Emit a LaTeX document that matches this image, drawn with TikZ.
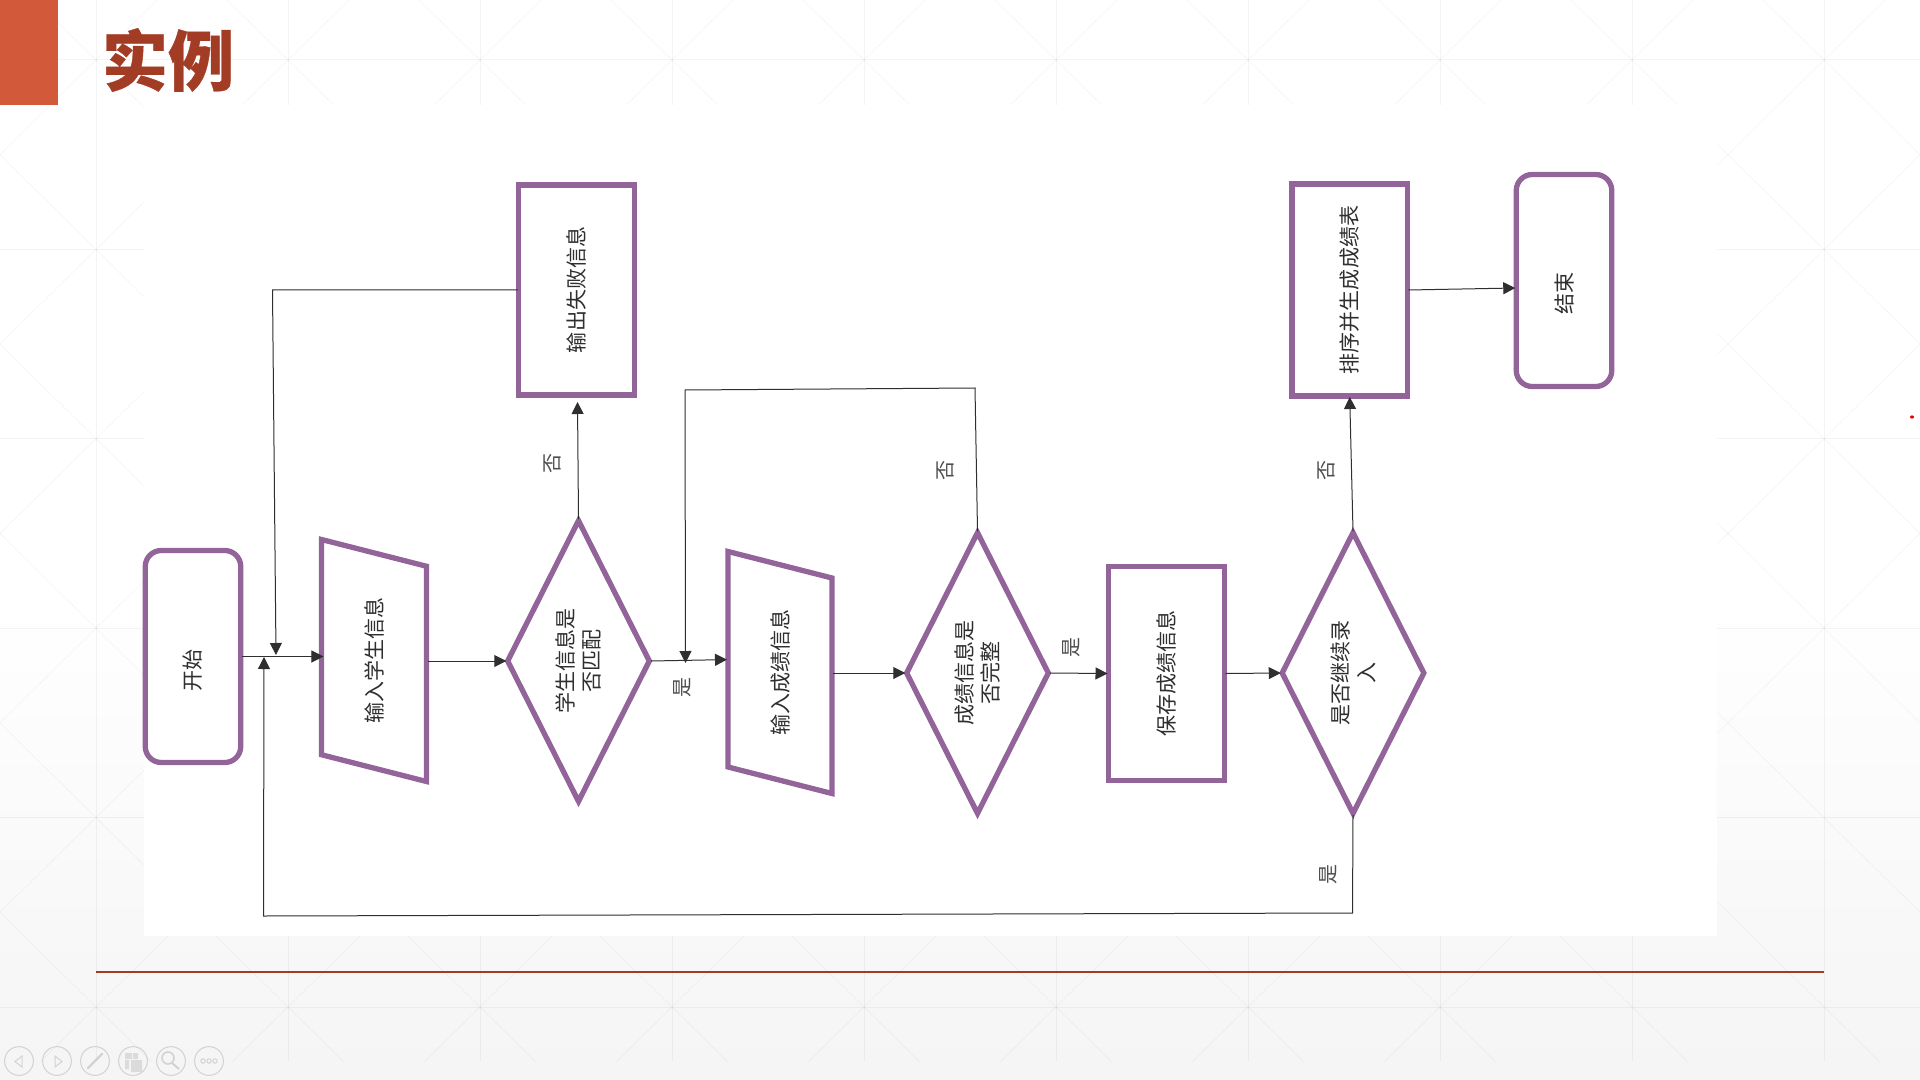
\documentclass[tikz,border=0pt]{standalone}
\usepackage{fontspec}
\setmainfont{Noto Sans CJK SC}
\newfontfamily\titlefont[BoldFeatures={FakeBold=0.5}]{Noto Sans CJK SC}
\usepackage{xcolor}
\usetikzlibrary{shapes.geometric,arrows.meta,calc}
\definecolor{flowpurple}{HTML}{93649A}
\definecolor{rust}{HTML}{A33C24}
\definecolor{tabred}{HTML}{D2593A}
\definecolor{inkgray}{HTML}{2F2F2F}
\definecolor{icongray}{HTML}{D2D2D2}
\tikzset{
    wall/.style={draw=black, opacity=0.045, line width=0.5pt},
    wallthin/.style={draw=black, opacity=0.035, line width=0.4pt},
    box/.style={draw=flowpurple, line width=2.65pt, inner sep=0pt, outer sep=0.5pt, rotate=90, text=inkgray,
        font=\fontsize{10.5}{13}\selectfont, align=center},
    procbox/.style={box, rectangle},
    terminal/.style={box, rectangle, rounded corners=8pt},
    iobox/.style={box, trapezium, trapezium left angle=75.7, trapezium right angle=104.3,
        trapezium stretches body=true, text height=10.5pt, text depth=2.5pt},
    decision/.style={box, diamond, aspect=2},
    flowline/.style={draw=inkgray, line width=0.5pt},
    flowarrow/.style={flowline, -{Triangle[length=6pt,width=6pt]}},
    branchlabel/.style={rotate=90, inner sep=0pt, text=inkgray!85, font=\fontsize{10}{12}\selectfont},
    toolicon/.style={draw=icongray, line width=0.5pt}
}
\begin{document}
\begin{tikzpicture}[x=0.5pt, y=-0.5pt]
    \useasboundingbox (0,0) rectangle (1920,1080);
    \fill[white] (0,0) rectangle (1920,600);
    \shade[top color=white, bottom color=black!4] (0,600) rectangle (1920,1080);

    \begin{scope}
        \clip (0,0) rectangle (1920,1061);
        \foreach \col in {0,...,9} {
            \draw[wall] ({96+192*\col},0) -- ({96+192*\col},1061);
        }
        \foreach \row in {0,...,5} {
            \draw[wall] (0,{60+189.4*\row}) -- (1920,{60+189.4*\row});
        }
        \foreach \col in {-8,...,12} {
            \draw[wallthin] ({96+192*\col-192},{60-189.4}) -- ++(1920,1894);
            \draw[wallthin] ({96+192*\col+192},{60-189.4}) -- ++(-1920,1894);
        }
    \end{scope}

    \fill[white] (144,105) rectangle (1717,936);
    \fill[tabred] (0,0) rectangle (58,105);
    \node (title) at (168,60) {\titlefont\fontsize{33}{38}\selectfont\bfseries\textcolor{rust}{实例}};
    \draw[rust, line width=1.1pt] (96,972) -- (1824,972);
    \fill[red!90!black] (1912,417) ellipse (2 and 1.6);

    \node[terminal, minimum width=212pt/2, minimum height=95.5pt/2] (startnode) at (193,656.5) {开始\hspace*{13.5pt}};
    \node[iobox, minimum width=242pt/2, inner ysep=19.75pt] (inputstudent) at (374,660.5) {输入学生信息};
    \node[decision, minimum width=281.5pt/2, minimum height=142.5pt/2] (matchcheck) at (578.5,661) {学生信息是\\否匹配};
    \node[procbox, minimum width=210pt/2, minimum height=115.5pt/2] (failout) at (576.5,290) {输出失败信息};
    \node[iobox, minimum width=242pt/2, inner ysep=19.5pt] (inputgrade) at (780,672.5) {输入成绩信息};
    \node[decision, minimum width=281.5pt/2, minimum height=142.5pt/2] (gradecheck) at (977.5,673) {成绩信息是\\否完整};
    \node[procbox, minimum width=214pt/2, minimum height=116pt/2] (savegrade) at (1166.5,673.5) {保存成绩信息};
    \node[decision, minimum width=281.5pt/2, minimum height=142.5pt/2] (morecheck) at (1353,673) {是否继续录\\入};
    \node[procbox, minimum width=212pt/2, minimum height=115.5pt/2] (sortgrade) at (1349.7,290) {排序并生成成绩表};
    \node[terminal, minimum width=212pt/2, minimum height=95.5pt/2] (endnode) at (1564,280.5) {结束\hspace*{13.5pt}};

    \coordinate (failcorner) at (272.5,290);
    \coordinate (failjoin) at (276,655);
    \coordinate (gradetop) at (975,388);
    \coordinate (gradeleft) at (685,390);
    \coordinate (gradejoin) at (685.5,663);
    \coordinate (loopright) at (1352.5,913);
    \coordinate (loopleft) at (263.5,916);
    \coordinate (loopjoin) at (264,657);

    \draw[flowarrow] (startnode.south) -- ([xshift=1.5pt]startnode.south -| inputstudent.north);
    \draw[flowarrow] (inputstudent.south |- matchcheck.north) -- (matchcheck.north);
    \draw[flowarrow] (matchcheck.south) -- ([yshift=0.7pt]matchcheck.south -| inputgrade.north);
    \draw[flowarrow] (matchcheck.east) -- ([xshift=0.5pt,yshift=-3pt]failout.west);
    \draw[flowarrow] (failout.north) -- (failcorner) -- (failjoin);
    \draw[flowarrow] (inputgrade.south |- gradecheck.north) -- (gradecheck.north);
    \draw[flowarrow] (gradecheck.south) -- (savegrade.north);
    \draw[flowarrow] (gradecheck.east) -- (gradetop) -- (gradeleft) -- (gradejoin);
    \draw[flowarrow] (savegrade.south) -- (morecheck.north);
    \draw[flowarrow] (morecheck.east) -- (sortgrade.west);
    \draw[flowarrow] (morecheck.west) -- (loopright) -- (loopleft) -- (loopjoin);
    \draw[flowarrow] (sortgrade.south) -- ([yshift=1pt]sortgrade.south -| endnode.north);

    \node[branchlabel] (failno) at (552,463) {否};
    \node[branchlabel] (matchyes) at (682,687) {是};
    \node[branchlabel] (gradeno) at (945,470) {否};
    \node[branchlabel] (gradeyes) at (1071,647) {是};
    \node[branchlabel] (moreno) at (1326,470) {否};
    \node[branchlabel] (moreyes) at (1328,874.5) {是};

    \foreach \cx in {19,57,95,133,171,209} {
        \draw[toolicon] (\cx,1061) circle (14.4);
    }
    \draw[toolicon] (22,1056) -- (15,1061.5) -- (22,1067) -- cycle;
    \draw[toolicon] (55,1056) -- (62,1061.5) -- (55,1067) -- cycle;
    \draw[icongray, line width=1.2pt, line cap=round] (88,1068) -- (102,1054);
    \fill[icongray!80] (125,1053) rectangle (132,1059) (133,1053) rectangle (138,1059)
        (125,1060) rectangle (129,1069) (131,1060) rectangle (142,1072);
    \draw[toolicon, line width=0.8pt] (168,1058) circle (6);
    \draw[icongray, line width=1pt] (172,1063) -- (179,1069);
    \foreach \dx in {203,209,215} {
        \draw[toolicon] (\dx,1061) circle (2.2);
    }
\end{tikzpicture}
\end{document}
